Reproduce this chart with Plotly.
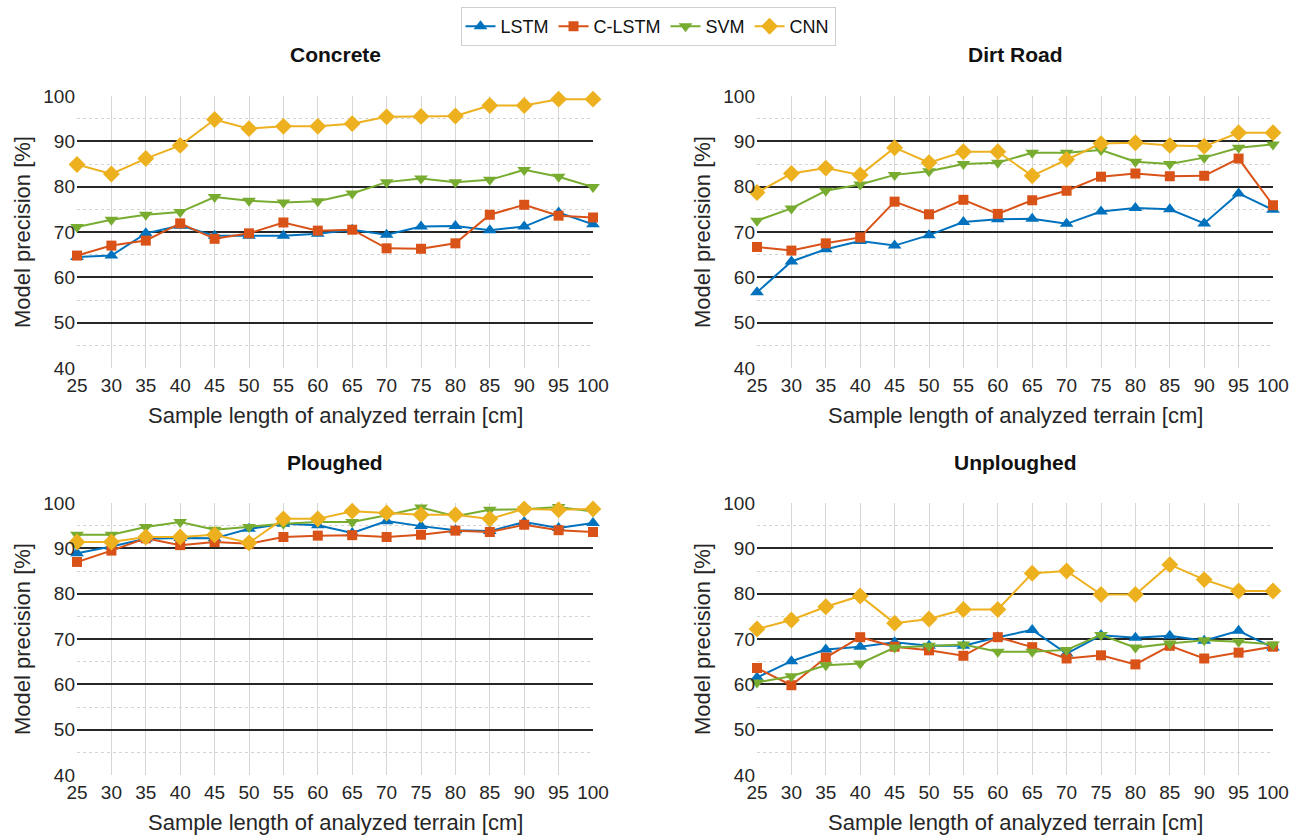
import plotly.graph_objects as go

# Sample lengths (cm)
lengths = [25, 30, 35, 40, 45, 50, 55, 60, 65, 70, 75, 80, 85, 90, 95, 100]

models = ["LSTM", "C-LSTM", "SVM", "CNN"]
colors = {"LSTM": "#0072BD", "C-LSTM": "#D95319", "SVM": "#77AC30", "CNN": "#EDB120"}
symbols = {"LSTM": "triangle-up", "C-LSTM": "square", "SVM": "triangle-down", "CNN": "diamond"}
marker_sizes = {"LSTM": 12, "C-LSTM": 10, "SVM": 12, "CNN": 13}

# Model precision [%] per terrain
concrete_lstm = [64.5, 64.8, 69.7, 71.4, 69.2, 69.2, 69.2, 69.6, 70.5, 69.4, 71.2, 71.3, 70.4, 71.2, 74.3, 71.7]
concrete_clstm = [64.8, 67.0, 68.1, 71.9, 68.5, 69.7, 72.1, 70.3, 70.5, 66.4, 66.3, 67.5, 73.8, 76.0, 73.6, 73.2]
concrete_svm = [71.1, 72.7, 73.8, 74.4, 77.7, 76.9, 76.5, 76.8, 78.5, 81.0, 81.8, 81.0, 81.5, 83.7, 82.2, 79.9]
concrete_cnn = [84.9, 82.8, 86.2, 89.1, 94.8, 92.8, 93.3, 93.3, 93.9, 95.4, 95.5, 95.6, 97.9, 97.9, 99.3, 99.3]

dirt_lstm = [56.7, 63.5, 66.2, 68.0, 67.0, 69.3, 72.2, 72.8, 72.9, 71.8, 74.5, 75.3, 75.0, 71.9, 78.5, 74.9]
dirt_clstm = [66.7, 65.9, 67.5, 68.8, 76.7, 73.9, 77.1, 74.0, 77.0, 79.1, 82.2, 82.9, 82.3, 82.4, 86.2, 75.9]
dirt_svm = [72.5, 75.2, 79.1, 80.5, 82.6, 83.4, 85.0, 85.3, 87.5, 87.5, 88.1, 85.5, 85.0, 86.4, 88.6, 89.3]
dirt_cnn = [78.7, 82.9, 84.1, 82.6, 88.6, 85.3, 87.7, 87.7, 82.4, 86.0, 89.5, 89.7, 89.1, 88.9, 91.9, 91.9]

ploughed_lstm = [88.9, 90.4, 92.1, 92.3, 92.2, 94.3, 95.4, 95.1, 93.4, 96.0, 94.9, 94.0, 93.8, 95.8, 94.5, 95.6]
ploughed_clstm = [87.0, 89.5, 92.2, 90.7, 91.4, 91.0, 92.5, 92.8, 92.9, 92.5, 93.0, 93.9, 93.6, 95.2, 94.0, 93.6]
ploughed_svm = [93.0, 93.0, 94.7, 95.8, 94.1, 94.7, 95.4, 95.8, 95.8, 97.3, 99.0, 97.1, 98.5, 98.6, 99.1, 98.1]
ploughed_cnn = [91.4, 91.4, 92.5, 92.5, 93.0, 91.2, 96.5, 96.5, 98.2, 97.8, 97.4, 97.4, 96.5, 98.7, 98.5, 98.7]

unploughed_lstm = [61.5, 65.1, 67.7, 68.3, 69.3, 68.5, 68.5, 70.4, 72.0, 66.8, 70.8, 70.3, 70.7, 69.6, 71.8, 68.1]
unploughed_clstm = [63.6, 59.8, 65.9, 70.4, 68.3, 67.5, 66.3, 70.4, 68.2, 65.7, 66.4, 64.4, 68.5, 65.7, 67.0, 68.3]
unploughed_svm = [60.4, 61.8, 64.2, 64.6, 68.1, 68.5, 68.8, 67.2, 67.2, 67.6, 70.9, 68.1, 69.0, 69.7, 69.4, 68.8]
unploughed_cnn = [72.2, 74.2, 77.1, 79.5, 73.5, 74.4, 76.5, 76.5, 84.5, 85.0, 79.8, 79.8, 86.4, 83.1, 80.6, 80.6]

panels = [
    ("Concrete", [concrete_lstm, concrete_clstm, concrete_svm, concrete_cnn]),
    ("Dirt Road", [dirt_lstm, dirt_clstm, dirt_svm, dirt_cnn]),
    ("Ploughed", [ploughed_lstm, ploughed_clstm, ploughed_svm, ploughed_cnn]),
    ("Unploughed", [unploughed_lstm, unploughed_clstm, unploughed_svm, unploughed_cnn]),
]

x_label = "Sample length of analyzed terrain [cm]"
y_label = "Model precision [%]"

W, H = 1303, 836
# plot areas in pixels: (left, right, top, bottom)
boxes = [(77, 593, 96, 368), (757, 1273, 96, 368), (77, 593, 503, 775), (757, 1273, 503, 775)]

FONT = "Liberation Sans, Arial, Helvetica, sans-serif"
TXT = "#262626"


def px_x(v):
    return v / W


def px_y(v):
    return 1 - v / H


fig = go.Figure()
layout = dict(
    width=W, height=H,
    margin=dict(l=0, r=0, t=0, b=0, autoexpand=False),
    paper_bgcolor="white", plot_bgcolor="white",
    font=dict(family=FONT, color=TXT, size=19),
    showlegend=True,
    legend=dict(
        orientation="h", x=px_x(648), xanchor="center", y=px_y(7), yanchor="top",
        bordercolor="#cfcfcf", borderwidth=1, bgcolor="white",
        font=dict(family=FONT, size=18, color="#111"),
        itemwidth=30, tracegroupgap=0,
    ),
    annotations=[],
)

for i, (title, series) in enumerate(panels):
    l, r, t, b = boxes[i]
    sfx = "" if i == 0 else str(i + 1)
    xa, ya = "xaxis" + sfx, "yaxis" + sfx
    layout[xa] = dict(
        domain=[px_x(l), px_x(r)], anchor="y" + sfx, range=[25, 100],
        tickmode="linear", tick0=25, dtick=5,
        showgrid=True, gridcolor="#d6d6d6", gridwidth=1,
        zeroline=False, showline=False, ticks="", automargin=False,
        tickfont=dict(size=19, color=TXT), ticklabelstandoff=4,
    )
    layout[ya] = dict(
        domain=[px_y(b), px_y(t)], anchor="x" + sfx, range=[40, 100],
        tickmode="linear", tick0=40, dtick=10,
        showgrid=True, gridcolor="#262626", gridwidth=2,
        minor=dict(dtick=5, showgrid=True, gridcolor="#d4d4d4", gridwidth=1, griddash="dot"),
        zeroline=False, showline=False, ticks="", automargin=False,
        tickfont=dict(size=19, color=TXT), ticklabelstandoff=1,
    )
    # panel title
    layout["annotations"].append(dict(
        text="<b>" + title + "</b>", x=px_x((l + r) / 2), y=px_y(t - 41),
        xref="paper", yref="paper", xanchor="center", yanchor="middle",
        showarrow=False, font=dict(size=21, color="#111", family=FONT),
    ))
    # x-axis title
    layout["annotations"].append(dict(
        text=x_label, x=px_x((l + r) / 2), y=px_y(b + 47),
        xref="paper", yref="paper", xanchor="center", yanchor="middle",
        showarrow=False, font=dict(size=22, color=TXT, family=FONT),
    ))
    # y-axis title
    layout["annotations"].append(dict(
        text=y_label, x=px_x(l - 55), y=px_y((t + b) / 2), textangle=-90,
        xref="paper", yref="paper", xanchor="center", yanchor="middle",
        showarrow=False, font=dict(size=22, color=TXT, family=FONT),
    ))
    for name, vals in zip(models, series):
        fig.add_trace(go.Scatter(
            x=lengths, y=vals, mode="lines+markers", name=name,
            xaxis="x" + sfx, yaxis="y" + sfx,
            line=dict(color=colors[name], width=2),
            marker=dict(symbol=symbols[name], size=marker_sizes[name], color=colors[name]),
            cliponaxis=False, showlegend=(i == 0), legendgroup=name,
        ))

fig.update_layout(**layout)
fig.write_html("out.html")
